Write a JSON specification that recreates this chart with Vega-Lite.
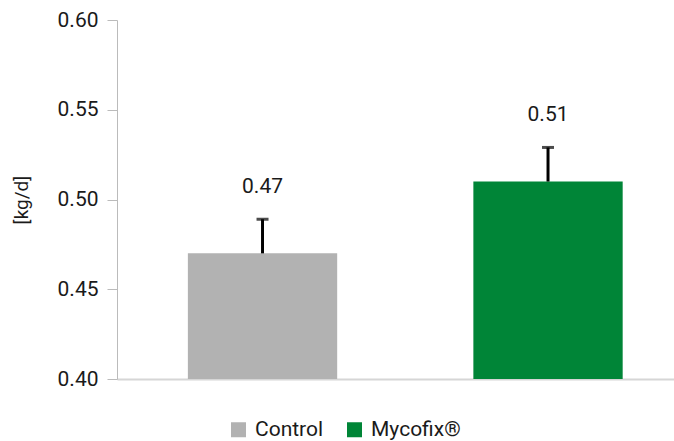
{
  "$schema": "https://vega.github.io/schema/vega-lite/v6.json",
  "autosize": "none",
  "padding": {"left": 117, "top": 20, "right": 0, "bottom": 62},
  "width": 557,
  "height": 359,
  "config": {
    "view": {"stroke": null},
    "font": "Roboto",
    "axis": {"labelFont": "Roboto", "titleFont": "Roboto"},
    "legend": {"labelFont": "Roboto"}
  },
  "data": {
    "values": [
      {"group": "Control", "value": 0.47, "upper": 0.489},
      {"group": "Mycofix®", "value": 0.51, "upper": 0.529}
    ]
  },
  "encoding": {
    "x": {
      "field": "group",
      "type": "nominal",
      "sort": ["Control", "Mycofix®"],
      "scale": {"paddingInner": 0.477, "paddingOuter": 0.214, "align": 0.58},
      "axis": {"labels": false, "ticks": false, "title": null, "domainColor": "#d6d6d6", "domainWidth": 2}
    }
  },
  "layer": [
    {
      "mark": {"type": "bar", "clip": true},
      "encoding": {
        "y": {
          "field": "value",
          "type": "quantitative",
          "scale": {"domain": [0.4, 0.6], "zero": false},
          "axis": {
            "values": [0.4, 0.45, 0.5, 0.55, 0.6],
            "format": ".2f",
            "labelFontSize": 21,
            "labelColor": "#1a1a1a",
            "labelPadding": 9,
            "tickSize": 10,
            "tickColor": "#bbbbbb",
            "domainColor": "#bbbbbb",
            "grid": false,
            "title": "[kg/d]",
            "titleFontSize": 19,
            "titleFontWeight": "normal",
            "titleColor": "#1a1a1a",
            "titlePadding": 26
          }
        },
        "color": {
          "field": "group",
          "type": "nominal",
          "scale": {"domain": ["Control", "Mycofix®"], "range": ["#b2b2b2", "#008537"]},
          "legend": {
            "title": null,
            "orient": "none",
            "legendX": 111,
            "legendY": 399,
            "direction": "horizontal",
            "symbolType": "square",
            "symbolSize": 225,
            "symbolStrokeWidth": 0,
            "labelFontSize": 21,
            "labelColor": "#1a1a1a",
            "labelOffset": 6,
            "columnPadding": 20
          }
        }
      }
    },
    {
      "mark": {"type": "rule", "color": "#000000", "strokeWidth": 3},
      "encoding": {
        "y": {"field": "value", "type": "quantitative"},
        "y2": {"field": "upper"}
      }
    },
    {
      "mark": {"type": "tick", "color": "#000000", "thickness": 3, "size": 12, "orient": "horizontal"},
      "encoding": {
        "y": {"field": "upper", "type": "quantitative"}
      }
    },
    {
      "mark": {"type": "text", "dy": -32, "fontSize": 21, "color": "#1a1a1a", "baseline": "middle"},
      "encoding": {
        "y": {"field": "upper", "type": "quantitative"},
        "text": {"field": "value", "type": "quantitative", "format": ".2f"}
      }
    }
  ]
}
